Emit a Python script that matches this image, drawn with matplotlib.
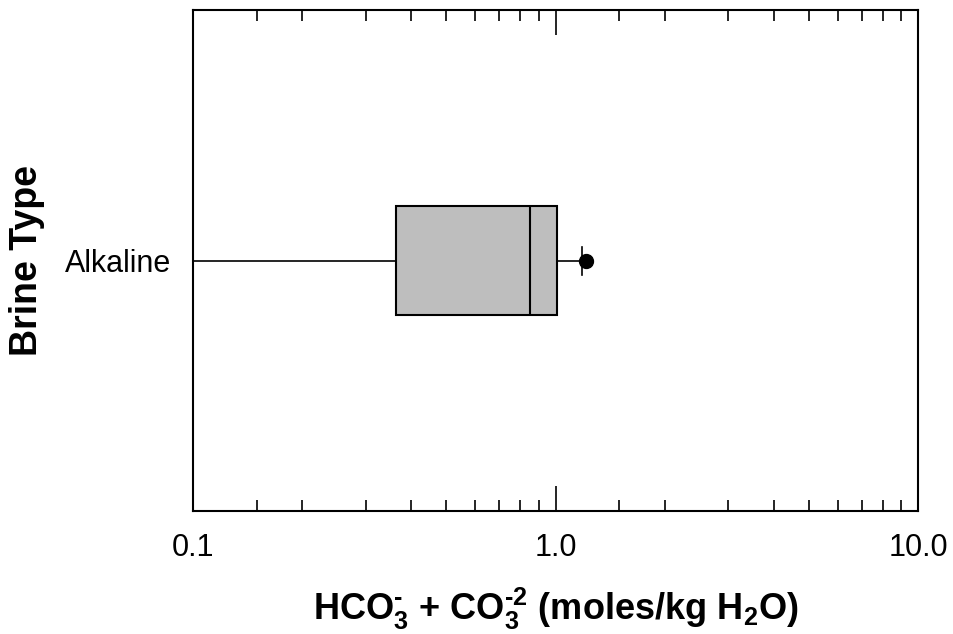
import matplotlib.pyplot as plt
from matplotlib.ticker import FixedLocator, NullFormatter

plt.rcParams['font.family'] = ['Liberation Sans', 'DejaVu Sans']
plt.rcParams['mathtext.fontset'] = 'custom'
plt.rcParams['mathtext.rm'] = 'Liberation Sans:bold'
plt.rcParams['mathtext.it'] = 'Liberation Sans:bold'
plt.rcParams['mathtext.bf'] = 'Liberation Sans:bold'

# data
brine_types = ['Alkaline']
q1 = [0.363]
median = [0.849]
q3 = [1.01]
whisker_low = [0.095]
whisker_high = [1.18]
outliers = [[1.21]]

major_ticks = [0.1, 1.0, 10.0]
major_labels = ['0.1', '1.0', '10.0']
minor_ticks = [m * d for d in [0.1, 1.0] for m in [1.5, 2, 3, 4, 5, 6, 7, 8, 9]]

stats = []
for i in range(len(brine_types)):
    stats.append(dict(label=brine_types[i], q1=q1[i], med=median[i], q3=q3[i],
                      whislo=whisker_low[i], whishi=whisker_high[i], fliers=outliers[i]))

fig = plt.figure(figsize=(9.54, 6.34), dpi=100)
ax = fig.add_axes([0.2023, 0.194, 0.76, 0.790])

ax.bxp(stats, positions=[0], widths=0.435, vert=False, patch_artist=True,
       capwidths=0.112,
       boxprops=dict(facecolor='#bebebe', edgecolor='black', linewidth=1.5),
       medianprops=dict(color='black', linewidth=1.5),
       whiskerprops=dict(color='black', linewidth=1.2),
       capprops=dict(color='black', linewidth=1.2),
       flierprops=dict(marker='o', markerfacecolor='black', markeredgecolor='black',
                       markersize=10))

ax.set_xscale('log')
ax.set_xlim(0.1, 10)
ax.set_ylim(-1, 1)
ax.xaxis.set_major_locator(FixedLocator(major_ticks))
ax.set_xticklabels(major_labels)
ax.xaxis.set_minor_locator(FixedLocator(minor_ticks))
ax.xaxis.set_minor_formatter(NullFormatter())
ax.tick_params(axis='x', which='major', direction='in', length=18, width=1.2,
               top=True, labelsize=22, pad=16)
ax.tick_params(axis='x', which='minor', direction='in', length=8, width=1.2, top=True)
ax.set_yticks([0])
ax.set_yticklabels(brine_types)
ax.tick_params(axis='y', length=0, labelsize=22, pad=16)

for s in ax.spines.values():
    s.set_linewidth(1.5)

ax.set_xlabel(r'HCO$_3^{\text{-}}$ + CO$_3^{\text{-2}}$ (moles/kg H$_2$O)', fontsize=26,
              fontweight='bold', labelpad=16)
ax.set_ylabel('Brine Type', fontsize=27, fontweight='bold', labelpad=14)

fig.savefig('out.png', dpi=100)
